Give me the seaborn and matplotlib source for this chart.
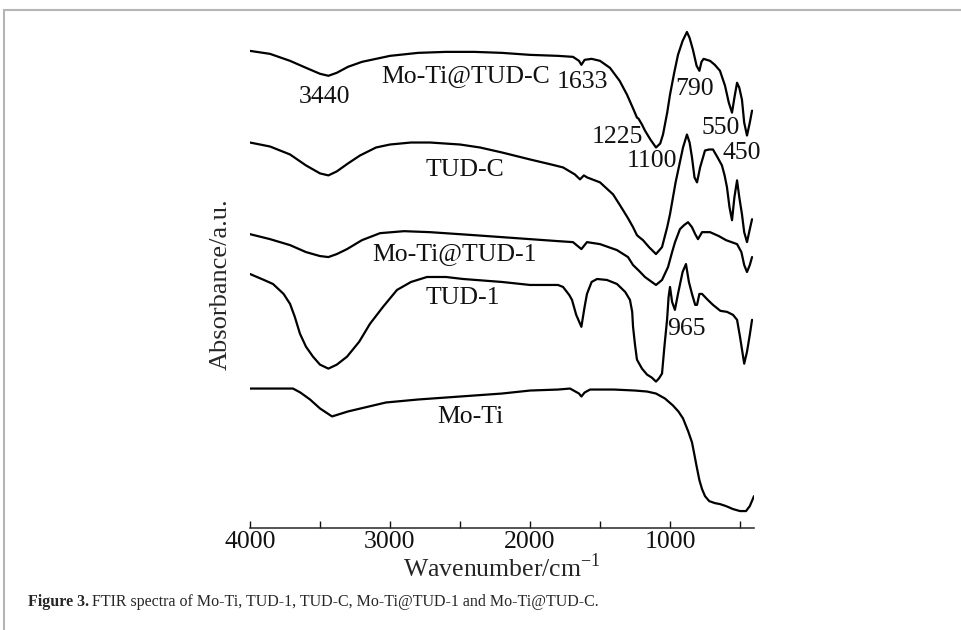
import numpy as np
import pandas as pd
import seaborn as sns
import matplotlib.pyplot as plt
from matplotlib.lines import Line2D
from matplotlib.ticker import MultipleLocator

wn_moti_tudc = [4000, 3857, 3714, 3600, 3500, 3440, 3380, 3300, 3200, 3100, 3000, 2800, 2600,
                2400, 2200, 2000, 1800, 1693, 1650, 1633, 1610, 1560, 1500, 1429, 1360, 1307,
                1260, 1236, 1225, 1200, 1179, 1140, 1100, 1070, 1050, 1020, 1000, 970, 943,
                910, 879, 860, 836, 810, 790, 775, 760, 714, 680, 643, 607, 580, 557, 540,
                521, 505, 486, 470, 450, 430, 414]
ab_moti_tudc = [477, 474, 467, 460, 454, 452, 455, 461, 466, 469, 472, 475, 476,
                476, 475, 473, 472, 471, 467, 463, 468, 469, 467, 460, 447, 433,
                418, 410, 409, 403, 397, 388, 380, 384, 393, 415, 433, 455, 473,
                487, 496, 490, 478, 462, 457, 466, 469, 467, 463, 457, 442, 425, 415, 430,
                445, 440, 428, 405, 392, 405, 417]

wn_tudc = [4000, 3857, 3714, 3600, 3500, 3440, 3380, 3300, 3214, 3100, 3000, 2850, 2714,
           2500, 2357, 2200, 2000, 1850, 1764, 1680, 1643, 1615, 1593, 1500, 1407, 1357,
           1300, 1264, 1236, 1220, 1193, 1150, 1100, 1057, 1020, 1000, 960, 907, 879,
           860, 843, 825, 807, 785, 750, 720, 693, 660, 629, 610, 593, 575, 557, 540,
           521, 505, 486, 470, 450, 430, 414]
ab_tudc = [385, 381, 373, 362, 354, 352, 356, 364, 372, 380, 383, 385, 385,
           383, 380, 375, 368, 363, 360, 353, 348, 352, 350, 345, 333, 322,
           309, 300, 292, 290, 287, 280, 273, 280, 300, 313, 345, 380, 393,
           385, 370, 350, 345, 360, 377, 378, 378, 370, 362, 352, 340, 320, 307, 330,
           347, 330, 313, 295, 285, 298, 308]

wn_moti_tud1 = [4000, 3857, 3714, 3600, 3500, 3440, 3380, 3307, 3200, 3071, 2900, 2714, 2400,
                2000, 1800, 1693, 1633, 1593, 1500, 1379, 1300, 1264, 1220, 1179, 1140, 1100,
                1057, 1014, 985, 964, 929, 900, 871, 843, 820, 800, 771, 714, 650, 600,
                521, 490, 470, 450, 430, 414]
ab_moti_tud1 = [293, 288, 282, 275, 271, 270, 273, 278, 287, 294, 296, 295, 292,
                288, 286, 285, 278, 285, 283, 277, 270, 262, 256, 250, 246, 242,
                247, 260, 275, 285, 298, 302, 305, 300, 293, 288, 295, 295, 291, 287,
                283, 275, 262, 255, 262, 270]

wn_tud1 = [4000, 3900, 3836, 3760, 3714, 3680, 3643, 3600, 3550, 3500, 3440, 3380, 3307,
           3220, 3143, 3050, 2950, 2850, 2736, 2600, 2479, 2200, 2000, 1800, 1764, 1720,
           1700, 1670, 1633, 1610, 1593, 1560, 1521, 1450, 1379, 1320, 1286, 1270, 1264,
           1250, 1236, 1200, 1164, 1130, 1100, 1080, 1057, 1040, 1021, 1010, 1000, 985,
           965, 943, 910, 886, 865, 843, 820, 807, 790, 771, 730, 693, 640, 593, 550,
           521, 500, 470, 450, 430, 414]
ab_tud1 = [253, 247, 243, 233, 223, 210, 193, 180, 170, 162, 158, 162, 170,
           185, 203, 220, 237, 245, 250, 250, 248, 245, 242, 242, 240, 232,
           227, 212, 200, 220, 233, 245, 248, 247, 243, 235, 227, 215, 200,
           182, 167, 158, 152, 149, 145, 148, 153, 180, 207, 230, 240, 225,
           217, 233, 255, 263, 245, 233, 222, 222, 233, 233, 227, 222, 216, 215, 212,
           207, 190, 163, 175, 192, 207]

wn_moti = [4000, 3800, 3693, 3640, 3571, 3500, 3414, 3300, 3150, 3029, 2800, 2500, 2200,
           2000, 1800, 1714, 1650, 1633, 1610, 1571, 1400, 1250, 1164, 1100, 1036, 979,
           940, 907, 870, 843, 829, 810, 790, 771, 750, 720, 680, 643, 600, 550, 500,
           457, 430, 400]
ab_moti = [138, 138, 138, 134, 127, 118, 110, 115, 120, 124, 127, 130, 133,
           136, 137, 138, 133, 130, 134, 137, 137, 136, 135, 133, 128, 121,
           115, 108, 95, 84, 74, 60, 46, 37, 30, 25, 23, 22, 20, 17, 15,
           15, 20, 30]

series = [
    ('Mo-Ti@TUD-C', wn_moti_tudc, ab_moti_tudc),
    ('TUD-C', wn_tudc, ab_tudc),
    ('Mo-Ti@TUD-1', wn_moti_tud1, ab_moti_tud1),
    ('TUD-1', wn_tud1, ab_tud1),
    ('Mo-Ti', wn_moti, ab_moti),
]

# labels: (text, wavenumber, absorbance)
label_text = ['3440', 'Mo-Ti@TUD-C', '1633', '790', '1225', '550', '1100', '450',
              'TUD-C', 'Mo-Ti@TUD-1', 'TUD-1', '965', 'Mo-Ti']
label_wn = [3471, 2457, 1629, 821, 1379, 636, 1129, 486, 2464, 2536, 2479, 886, 2429]
label_ab = [431, 452, 446, 439, 391, 400, 366, 374, 357, 273, 229, 198, 109]

sns.set_style('ticks')
plt.rcParams['font.family'] = ['Liberation Serif', 'DejaVu Serif']
plt.rcParams['mathtext.fontset'] = 'custom'
plt.rcParams['mathtext.rm'] = 'Liberation Serif'

fig = plt.figure(figsize=(9.61, 6.3), dpi=100)
ax = fig.add_axes([250 / 961, (630 - 528) / 630, 504 / 961, 508 / 630])

frames = []
for name, wn, ab in series:
    frames.append(pd.DataFrame({'wavenumber': wn, 'absorbance': ab, 'sample': name}))
df = pd.concat(frames, ignore_index=True)

for name, _, _ in series:
    sub = df[df['sample'] == name]
    sns.lineplot(data=sub, x='wavenumber', y='absorbance', ax=ax, color='black',
                 linewidth=1.6, sort=False, estimator=None)

for t, x, y in zip(label_text, label_wn, label_ab):
    ax.text(x, y, t, fontsize=18.5, ha='center', va='center', color='#111111')

ax.set_xlim(4000, 400)
ax.set_ylim(-2, 508)
ax.xaxis.set_major_locator(MultipleLocator(1000))
ax.xaxis.set_minor_locator(MultipleLocator(500))
ax.tick_params(axis='x', which='both', direction='in', length=5, width=1, labelsize=18.5,
               pad=2, colors='#111111')
ax.set_yticks([])
sns.despine(ax=ax, left=True)
ax.spines['bottom'].set_linewidth(1.1)
ax.set_xlabel(r'Wavenumber/cm$^{\mathregular{-1}}$', fontsize=18.5, labelpad=0.5)
ax.set_ylabel('Absorbance/a.u.', fontsize=19)
ax.yaxis.set_label_coords(-18 / 504, 0.48)

# page frame and caption
fig.add_artist(Line2D([4 / 961, 1], [1 - 10 / 630, 1 - 10 / 630], color='#b5b5b5', lw=1.5))
fig.add_artist(Line2D([4 / 961, 4 / 961], [0, 1 - 10 / 630], color='#b5b5b5', lw=1.5))

t1 = fig.text(28 / 961, 1 - 602 / 630, 'Figure 3.', fontsize=11.5, fontweight='bold', va='center')
fig.canvas.draw()
bb = t1.get_window_extent()
fig.text(bb.x1 / 961 + 3 / 961, 1 - 602 / 630,
         'FTIR spectra of Mo-Ti, TUD-1, TUD-C, Mo-Ti@TUD-1 and Mo-Ti@TUD-C.',
         fontsize=11.5, va='center')

fig.savefig('out.png', dpi=100)
